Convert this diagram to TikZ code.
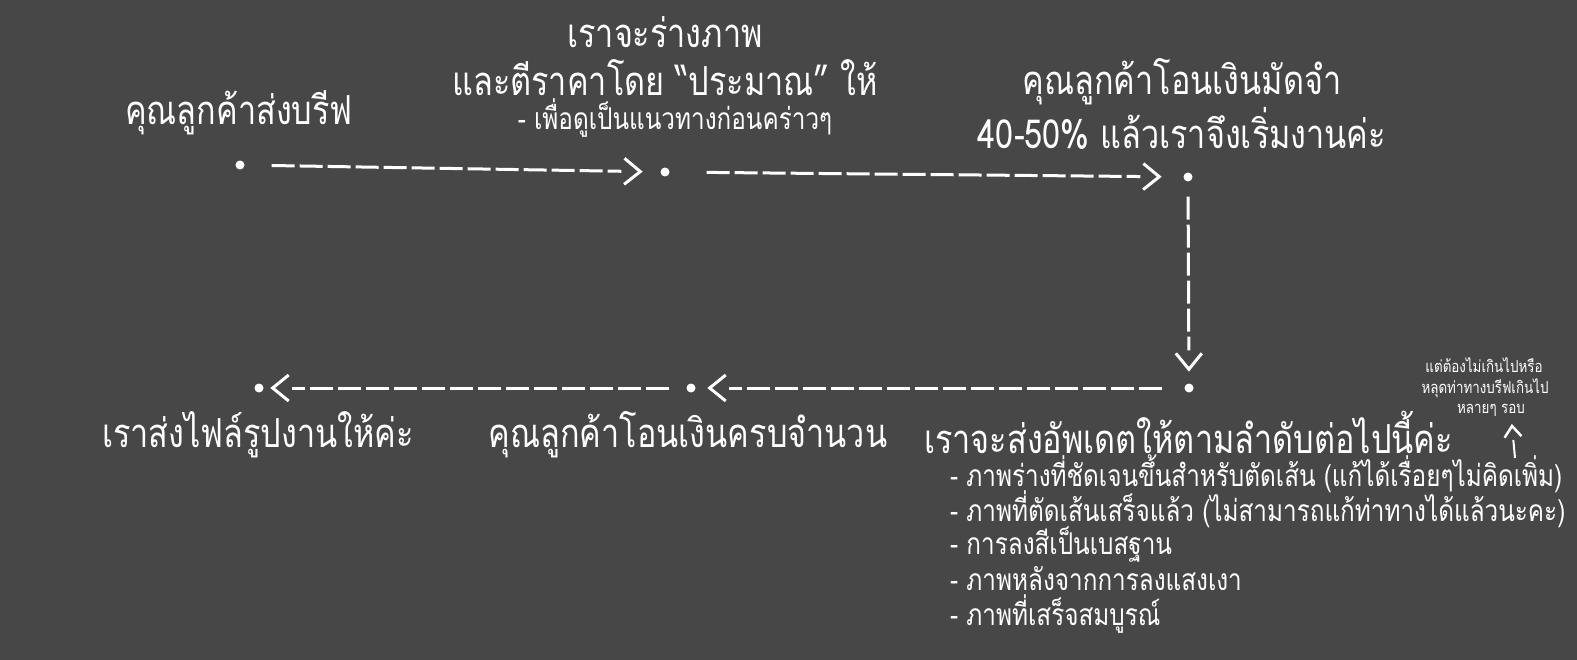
\documentclass[tikz,border=0pt]{standalone}
\usepackage{fontspec}
\newfontfamily\thaifont[Script=Thai,FakeStretch=0.81]{Loma}
\usetikzlibrary{decorations.markings}
\definecolor{board}{HTML}{474747}
\tikzset{
  dot/.style={circle,fill=white,inner sep=0pt,minimum size=9pt},
  chevron/.style={solid,white,line width=#1,line join=miter,line cap=butt,
    shorten <=0pt,shorten >=0pt},
  flow/.style 2 args={white,line width=3pt,dash pattern=on 23pt off 5pt,
    shorten <=#1,shorten >=#2+19pt,
    postaction={decorate,decoration={markings,mark=at position -#2 with
      {\draw[chevron=3pt] (-16pt,13pt) -- (0,0) -- (-16pt,-13pt);}}}},
  big/.style={text=white,inner sep=0pt,font=\thaifont\fontsize{40}{46}\selectfont},
  small/.style={text=white,inner sep=0pt,font=\thaifont\fontsize{30}{34}\selectfont},
  tiny/.style={text=white,inner sep=0pt,font=\thaifont\fontsize{16.5}{20}\selectfont},
}
\begin{document}
\begin{tikzpicture}[x=1pt,y=-1pt]
  \fill[board] (0,0) rectangle (1577,660);
  \useasboundingbox (0,0) rectangle (1577,660);

  % steps
  \node[dot] (brief) at (240,165) {};
  \node[dot] (sketch) at (665,172) {};
  \node[dot] (deposit) at (1188,177) {};
  \node[dot] (update) at (1189,388) {};
  \node[dot] (payall) at (691,388) {};
  \node[dot] (sendfile) at (259,388) {};

  \draw[flow={27pt}{20pt}] (brief) -- (sketch);
  \draw[flow={37pt}{24pt}] (sketch) -- (deposit);
  \draw[flow={15pt}{14pt}] (deposit) -- (update);
  \draw[flow={22pt}{14pt}] (update) -- (payall);
  \draw[flow={17pt}{9pt}] (payall) -- (sendfile);

  % texts
  \node[big] (t1) at (239,113) {คุณลูกค้าส่งบรีฟ};
  \node[big] (t2a) at (665,32) {เราจะร่างภาพ};
  \node[big] (t2b) at (665,78) {และตีราคาโดย “ประมาณ” ให้};
  \node[small] (t2c) at (675,118) {- เพื่อดูเป็นแนวทางก่อนคร่าวๆ};
  \node[big] (t3a) at (1182,82) {คุณลูกค้าโอนเงินมัดจำ};
  \node[big] (t3b) at (1182,128) {40-50\% แล้วเราจึงเริ่มงานค่ะ};
  \node[big] (t6) at (258,435) {เราส่งไฟล์รูปงานให้ค่ะ};
  \node[big] (t5) at (688,435) {คุณลูกค้าโอนเงินครบจำนวน};
  \node[big,anchor=west] (t4) at (924,432) {เราจะส่งอัพเดตให้ตามลำดับต่อไปนี้ค่ะ};
  \node[small,anchor=west] (i1) at (950,474) {- ภาพร่างที่ชัดเจนขึ้นสำหรับตัดเส้น (แก้ได้เรื่อยๆไม่คิดเพิ่ม)};
  \node[small,anchor=west] (i2) at (950,509) {- ภาพที่ตัดเส้นเสร็จแล้ว (ไม่สามารถแก้ท่าทางได้แล้วนะคะ)};
  \node[small,anchor=west] (i3) at (950,545) {- การลงสีเป็นเบสฐาน};
  \node[small,anchor=west] (i4) at (950,579) {- ภาพหลังจากการลงแสงเงา};
  \node[small,anchor=west] (i5) at (950,614) {- ภาพที่เสร็จสมบูรณ์};

  % note
  \node[tiny] (n1) at (1484,365) {แต่ต้องไม่เกินไปหรือ};
  \node[tiny] (n2) at (1485,388) {หลุดท่าทางบรีฟเกินไป};
  \node[tiny] (n3) at (1491,410) {หลายๆ รอบ};
  \coordinate (nfoot) at (1515,458);
  \coordinate (nhead) at (1512,426);
  \draw[white,line width=2pt,shorten >=14pt,
    postaction={decorate,decoration={markings,mark=at position 1 with
      {\draw[chevron=2.5pt] (-11pt,8.5pt) -- (0,0) -- (-11pt,-8.5pt);}}}]
    (nfoot) -- (nhead);
\end{tikzpicture}
\end{document}
